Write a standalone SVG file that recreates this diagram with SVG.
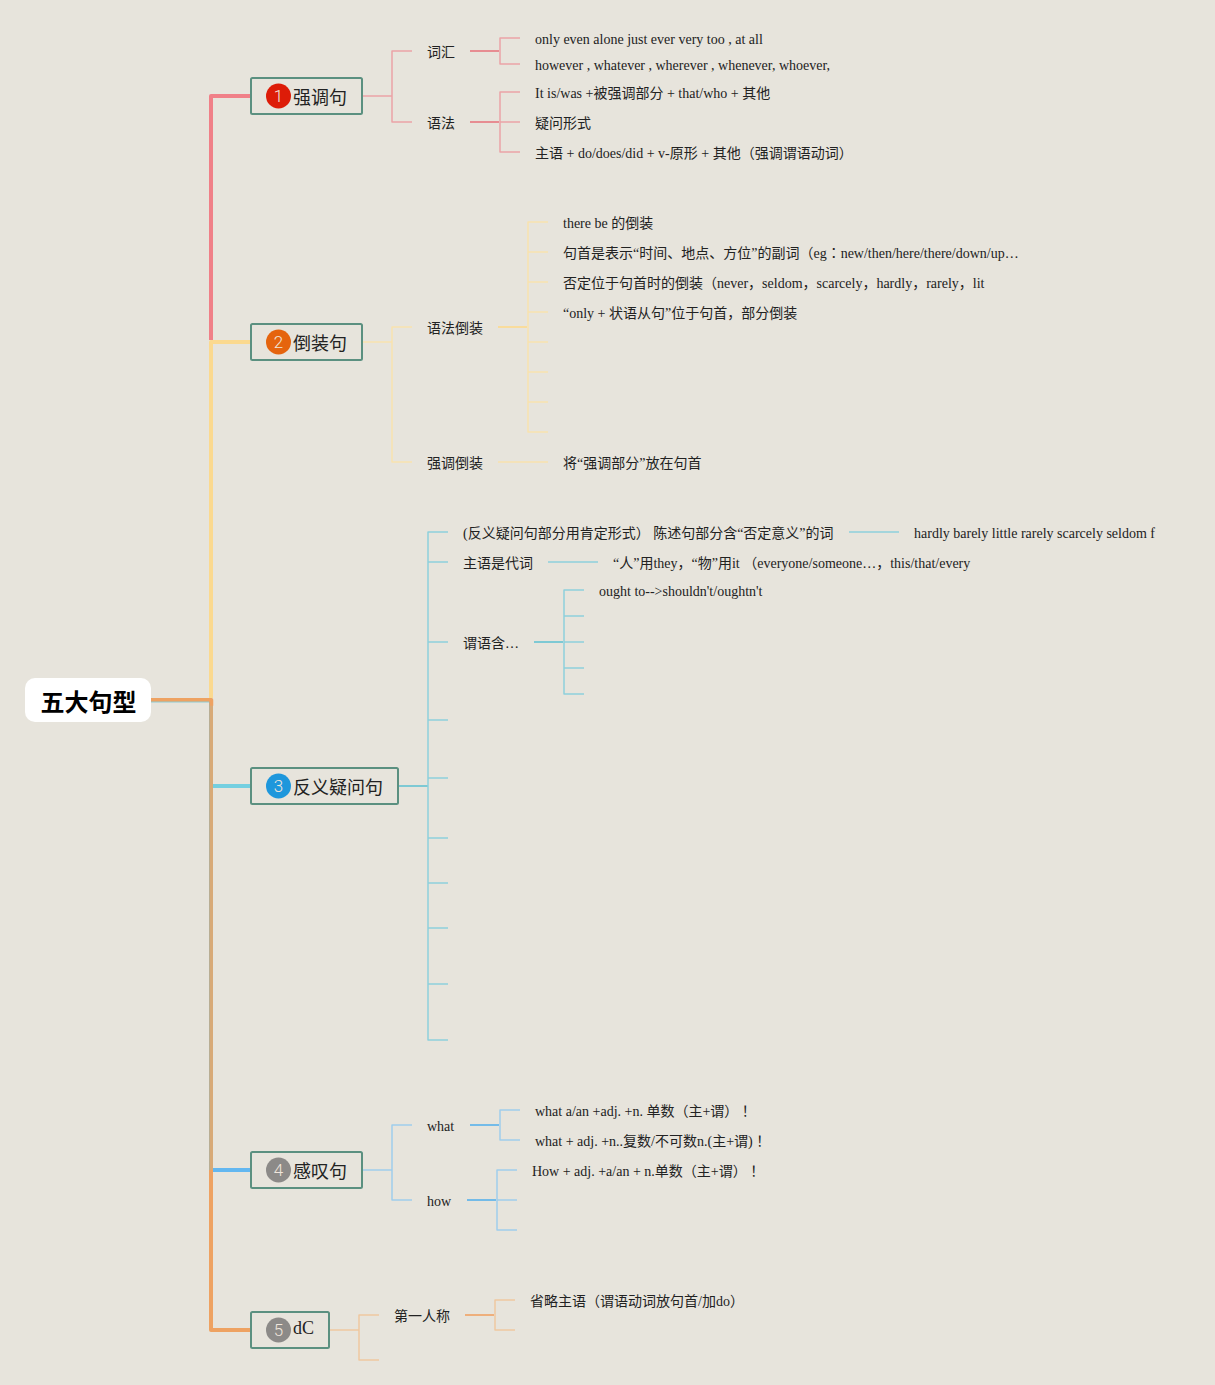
<svg xmlns="http://www.w3.org/2000/svg" width="1215" height="1385" viewBox="0 0 1215 1385">
<style>
text{font-family:"Liberation Serif","Noto Sans CJK SC",serif;font-size:14px;fill:#222}
.t{font-size:18px}
.c{font-family:"Noto Sans","Noto Sans CJK SC",sans-serif;font-size:24px;font-weight:700;fill:#000}
.box{fill:#e7e4dc;stroke:#5b9080;stroke-width:2}
.num{font-family:Roboto,sans-serif;font-size:17px;font-weight:300;fill:#f0e6dc;text-anchor:middle}
.tc{font-family:"Noto Sans CJK TC",sans-serif}
path{fill:none;stroke-linejoin:round}
.tk{stroke-width:4}
.p{stroke:#eba3a6;stroke-width:1.5}.ps{stroke:#e78d92;stroke-width:2}
.y{stroke:#f9e2ae;stroke-width:1.5}.ys{stroke:#f9dc9c;stroke-width:2}
.b{stroke:#8ed0dc;stroke-width:1.5}.bs{stroke:#7ec9d4;stroke-width:2}
.s{stroke:#a0cdeb;stroke-width:1.5}.ss{stroke:#74bbe8;stroke-width:2}
.o{stroke:#efc7a0;stroke-width:1.5}.os{stroke:#eeaf7c;stroke-width:2}
</style>
<rect width="1215" height="1385" fill="#e7e4dc"/>
<g id="connectors">
<path class="tk" stroke="#f08088" d="M250 96H211V340"/>
<path class="tk" stroke="#fbd98f" d="M250 342H211V698"/>
<path class="tk" stroke="#74cfe0" d="M250 786H213"/>
<path class="tk" stroke="#63b7f0" d="M250 1170H213"/>
<path class="tk" stroke="#d8aa78" d="M211 700V1170"/>
<path stroke="#b9ae94" stroke-width="1" d="M209.500 702V1170"/>
<path class="tk" stroke="#eea262" d="M250 1330H211V1170"/>
<path stroke="#8fcbd2" stroke-width="4.500" d="M151 700.200H209"/>
<path stroke="#eea262" stroke-width="3.500" stroke-linecap="square" d="M151 699.700H211.500V704"/>

<path class="p" d="M363 96H392M412 51H392V122H412"/>
<path class="ps" d="M470 51H499M470 122H499"/>
<path class="p" d="M520 38H500V64H520M520 92H500V152H520M500 122H520"/>

<path class="y" d="M363 342H392M412 327H392V462H412"/>
<path class="ys" d="M498 327H527"/>
<path class="y" d="M498 462H548"/>
<path class="y" d="M548 222H528V432H548M528 252H548M528 282H548M528 312H548M528 342H548M528 372H548M528 402H548"/>

<path class="bs" d="M399 786H428"/>
<path class="b" d="M448 532H428V1040H448M428 562H448M428 642H448M428 720H448M428 778H448M428 838H448M428 883H448M428 928H448M428 984H448"/>
<path class="b" d="M849 532H899M548 562H598"/>
<path class="bs" d="M534 642H563"/>
<path class="b" d="M584 590H564V694H584M564 616H584M564 642H584M564 668H584"/>

<path class="s" d="M363 1170H392M412 1125H392V1200H412"/>
<path class="ss" d="M470 1125H499M467 1200H496"/>
<path class="s" d="M520 1110H500V1140H520M517 1170H497V1230H517M497 1200H517"/>

<path class="o" d="M330 1330H359M379 1315H359V1360H379"/>
<path class="os" d="M465 1315H494"/>
<path class="o" d="M515 1300H495V1330H515"/>
</g>
<g id="root"><rect x="25" y="678" width="126" height="44" rx="10" fill="#fff"/><text class="c" x="40.500" y="711">五大句型</text></g>
<g id="topic1"><rect class="box" x="251" y="78" width="111" height="36" rx="1.500"/><circle cx="278.500" cy="96" r="12.500" fill="#dd1c08"/><text class="num" x="278.500" y="102">1</text><text class="t" x="293" y="104">强调句</text></g>
<g id="topic2"><rect class="box" x="251" y="324" width="111" height="36" rx="1.500"/><circle cx="278.500" cy="342" r="12.500" fill="#e5640e"/><text class="num" x="278.500" y="348">2</text><text class="t" x="293" y="350">倒装句</text></g>
<g id="topic3"><rect class="box" x="251" y="768" width="147" height="36" rx="1.500"/><circle cx="278.500" cy="786" r="12.500" fill="#1e97dc"/><text class="num" x="278.500" y="792">3</text><text class="t" x="293" y="794">反义疑问句</text></g>
<g id="topic4"><rect class="box" x="251" y="1152" width="111" height="36" rx="1.500"/><circle cx="278.500" cy="1170" r="12.500" fill="#8c8a88"/><text class="num" x="278.500" y="1176">4</text><text class="t" x="293" y="1178">感叹句</text></g>
<g id="topic5"><rect class="box" x="251" y="1312" width="78" height="36" rx="1.500"/><circle cx="278.500" cy="1330" r="12.500" fill="#8c8a88"/><text class="num" x="278.500" y="1336">5</text><text class="t" x="293" y="1334">dC</text></g>
<g id="labels1">
<text x="427" y="57">词汇</text><text x="427" y="128">语法</text>
<text x="535" y="44">only even alone just ever very too , at all</text>
<text x="535" y="70">however , whatever , wherever , whenever, whoever,</text>
<text x="535" y="98">It is/was +被强调部分 + that/who + 其他</text>
<text x="535" y="128">疑问形式</text>
<text x="535" y="158">主语 + do/does/did + v-原形 + 其他（强调谓语动词）</text>
</g>
<g id="labels2">
<text x="427" y="333">语法倒装</text><text x="427" y="468">强调倒装</text>
<text x="563" y="228">there be 的倒装</text>
<text x="563" y="258">句首是表示“时间、地点、方位”的副词（eg<tspan class="tc">：</tspan>new/then/here/there/down/up…</text>
<text x="563" y="288">否定位于句首时的倒装（never，seldom，scarcely，hardly，rarely，lit</text>
<text x="563" y="318">“only + 状语从句”位于句首，部分倒装</text>
<text x="563" y="468">将“强调部分”放在句首</text>
</g>
<g id="labels3">
<text x="463" y="538">(反义疑问句部分用肯定形式） 陈述句部分含“否定意义”的词</text>
<text x="914" y="538">hardly barely little rarely scarcely seldom f</text>
<text x="463" y="568">主语是代词</text>
<text x="613" y="568">“人”用they，“物”用it （everyone/someone…，this/that/every</text>
<text x="599" y="596">ought to--&gt;shouldn't/oughtn't</text>
<text x="463" y="648">谓语含…</text>
</g>
<g id="labels4">
<text x="427" y="1131">what</text><text x="427" y="1206">how</text>
<text x="535" y="1116">what a/an +adj. +n. 单数（主+谓）<tspan class="tc">！</tspan></text>
<text x="535" y="1146">what + adj. +n..复数/不可数n.(主+谓)<tspan class="tc">！</tspan></text>
<text x="532" y="1176">How + adj. +a/an + n.单数（主+谓）<tspan class="tc">！</tspan></text>
</g>
<g id="labels5">
<text x="394" y="1321">第一人称</text>
<text x="530" y="1306">省略主语（谓语动词放句首/加do）</text>
</g>
</svg>
